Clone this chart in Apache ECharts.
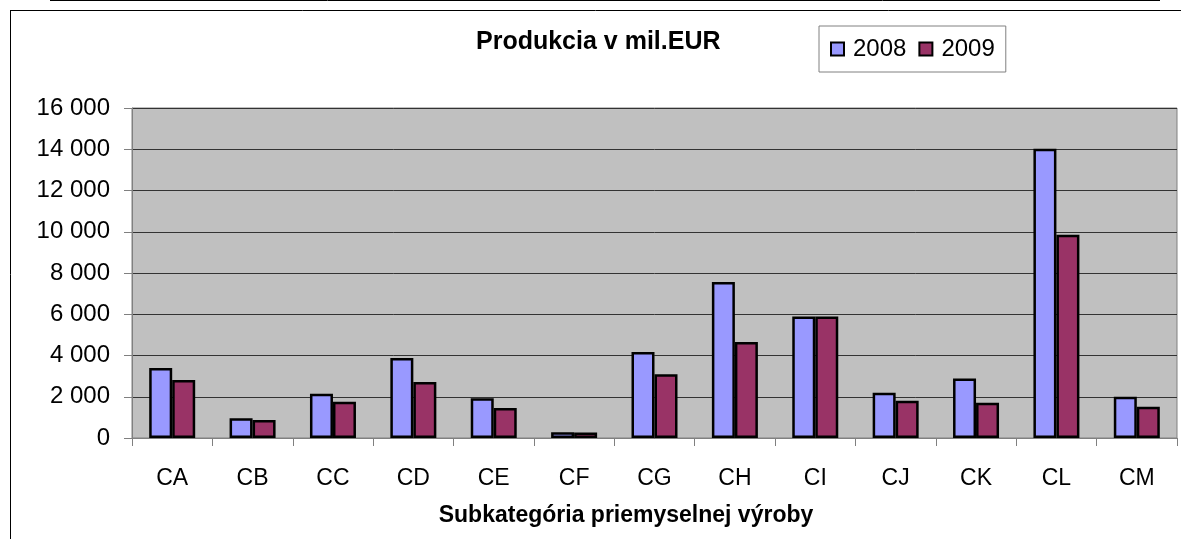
<!DOCTYPE html>
<html>
<head>
<meta charset="utf-8">
<script src="https://cdn.jsdelivr.net/npm/echarts@6/dist/echarts.min.js"></script>
<style>
  html, body { margin: 0; padding: 0; background: #fff; }
  #chart { width: 1181px; height: 539px; }
</style>
</head>
<body>
<div id="chart"></div>
<script>
// data
const categories = ['CA', 'CB', 'CC', 'CD', 'CE', 'CF', 'CG', 'CH', 'CI', 'CJ', 'CK', 'CL', 'CM']
const values2008 = [3400, 960, 2150, 3880, 1930, 280, 4170, 7560, 5890, 2200, 2880, 14030, 2000]
const values2009 = [2810, 870, 1760, 2710, 1450, 270, 3090, 4650, 5890, 1810, 1710, 9850, 1520]
const yTicks = { min: 0, max: 16000, interval: 2000 }

const font = 'Arial, "Liberation Sans", sans-serif'

function fmt(v) {
  return String(v).replace(/\B(?=(\d{3})+(?!\d))/g, ' ')
}

let chart = echarts.init(document.getElementById('chart'))

let option = {
  animation: false,
  textStyle: { fontFamily: font },
  title: {
    text: 'Produkcia v mil.EUR',
    left: 476,
    top: 30,
    padding: 0,
    textStyle: { fontFamily: font, fontWeight: 'bold', fontSize: 25, color: '#000' }
  },
  legend: {
    left: 819,
    top: 26,
    padding: [11, 11, 11, 11],
    itemGap: 12,
    itemWidth: 13,
    itemHeight: 13,
    icon: 'rect',
    borderColor: '#808080',
    borderWidth: 1,
    backgroundColor: '#fff',
    textStyle: { fontFamily: font, fontSize: 24, color: '#000', padding: [0, 0, 0, 4] },
    data: ['2008', '2009']
  },
  grid: {
    left: 132,
    right: 4,
    top: 108,
    bottom: 101,
    show: true,
    backgroundColor: '#C0C0C0',
    borderColor: '#808080',
    borderWidth: 1
  },
  xAxis: {
    type: 'category',
    data: categories,
    name: 'Subkategória priemyselnej výroby',
    nameLocation: 'middle',
    nameGap: 66,
    nameTextStyle: {
      fontFamily: font, fontWeight: 'bold', fontSize: 23, color: '#000',
      verticalAlign: 'top',
      padding: [0, 57, 0, 0]
    },
    axisLine: { lineStyle: { color: '#808080', width: 1 } },
    axisTick: { show: true, length: 8, lineStyle: { color: '#808080' } },
    axisLabel: { margin: 29, fontSize: 23, color: '#000', fontFamily: font }
  },
  yAxis: {
    type: 'value',
    min: yTicks.min,
    max: yTicks.max,
    interval: yTicks.interval,
    axisLine: { show: true, lineStyle: { color: '#808080', width: 1 } },
    axisTick: { show: true, length: 8, lineStyle: { color: '#808080' } },
    axisLabel: { margin: 22, fontSize: 24, color: '#000', fontFamily: font, formatter: fmt },
    splitLine: { lineStyle: { color: '#333', width: 1 } }
  },
  series: [{
    name: '2008',
    type: 'bar',
    barWidth: 23,
    barGap: '0%',
    itemStyle: { color: '#9999FF', borderColor: '#000', borderWidth: 2.5 },
    data: values2008
  }, {
    name: '2009',
    type: 'bar',
    barWidth: 23,
    barGap: '0%',
    itemStyle: { color: '#993366', borderColor: '#000', borderWidth: 2.5 },
    data: values2009
  }],
  graphic: [
    { type: 'line', shape: { x1: 50, y1: 0.5, x2: 1160, y2: 0.5 }, style: { stroke: '#000', lineWidth: 1 } },
    { type: 'line', shape: { x1: 10, y1: 10.5, x2: 1181, y2: 10.5 }, style: { stroke: '#000', lineWidth: 1 } },
    { type: 'line', shape: { x1: 10.5, y1: 10, x2: 10.5, y2: 539 }, style: { stroke: '#000', lineWidth: 1 } }
  ]
}
chart.setOption(option)
</script>
</body>
</html>
